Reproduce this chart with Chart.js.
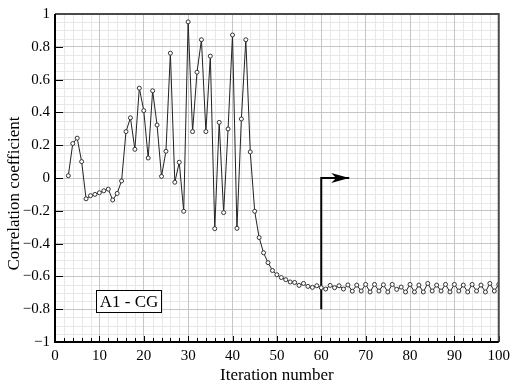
<!DOCTYPE html>
<html>
<head>
<meta charset="utf-8">
<script src="https://cdn.jsdelivr.net/npm/chart.js@4.4.1/dist/chart.umd.min.js"></script>
<style>
    html, body { margin: 0; padding: 0; background: #fff; }
</style>
</head>
<body>
<canvas id="corrChart" width="515" height="387"></canvas>
<script>
const ctx = document.getElementById("corrChart").getContext("2d");

/* Datos */
const iterations = [
    3, 4, 5, 6, 7, 8, 9, 10, 11, 12, 13, 14, 15, 16, 17, 18, 19, 20,
    21, 22, 23, 24, 25, 26, 27, 28, 29, 30, 31, 32, 33, 34, 35, 36, 37, 38, 39, 40,
    41, 42, 43, 44, 45, 46, 47, 48, 49, 50, 51, 52, 53, 54, 55, 56, 57, 58, 59, 60,
    61, 62, 63, 64, 65, 66, 67, 68, 69, 70, 71, 72, 73, 74, 75, 76, 77, 78, 79, 80,
    81, 82, 83, 84, 85, 86, 87, 88, 89, 90, 91, 92, 93, 94, 95, 96, 97, 98, 99, 100
];
const correlation = [
    0.014, 0.21, 0.243, 0.10, -0.127, -0.108, -0.10, -0.09, -0.078, -0.068, -0.134, -0.094, -0.018, 0.283, 0.367, 0.175, 0.548, 0.411,
    0.122, 0.532, 0.323, 0.01, 0.163, 0.761, -0.026, 0.096, -0.203, 0.952, 0.283, 0.645, 0.843, 0.283, 0.743, -0.309, 0.339, -0.211, 0.299, 0.872,
    -0.307, 0.36, 0.843, 0.159, -0.203, -0.363, -0.456, -0.516, -0.564, -0.59, -0.607, -0.62, -0.634, -0.637, -0.655, -0.643, -0.661, -0.667, -0.657, -0.669,
    -0.677, -0.655, -0.669, -0.657, -0.677, -0.652, -0.69, -0.653, -0.689, -0.649, -0.695, -0.649, -0.689, -0.651, -0.695, -0.649, -0.679, -0.665, -0.695, -0.649,
    -0.695, -0.653, -0.695, -0.643, -0.689, -0.653, -0.689, -0.649, -0.695, -0.649, -0.689, -0.653, -0.695, -0.649, -0.689, -0.653, -0.695, -0.643, -0.689, -0.649
];

/* Flecha: sube en la iteracion 60 y apunta a la derecha */
const arrowX = [60, 60, 66.3];
const arrowY = [-0.8, 0, 0];

const xTickLabels = [0, 10, 20, 30, 40, 50, 60, 70, 80, 90, 100];
const yTickLabels = [-1, -0.8, -0.6, -0.4, -0.2, 0, 0.2, 0.4, 0.6, 0.8, 1];
const caseLabel = "A1 - CG";

const SERIF = "'Liberation Serif', 'DejaVu Serif', serif";
Chart.defaults.font.family = SERIF;
Chart.defaults.color = "#000";

function fmtTick(v) {
    const r = Math.round(v * 10) / 10;
    if (r === 0) return "0";
    return r < 0 ? "\u2212" + String(-r) : String(r);
}

/* fondo blanco + rejilla menor */
const minorGrid = {
    id: "minorGrid",
    beforeDraw(chart) {
        const { ctx, chartArea: a, scales: { x, y } } = chart;
        ctx.save();
        ctx.fillStyle = "#fff";
        ctx.fillRect(0, 0, chart.width, chart.height);
        ctx.strokeStyle = "#e8e8e8";
        ctx.lineWidth = 1;
        ctx.beginPath();
        for (let v = 2; v < 100; v += 2) {
            if (v % 10 === 0) continue;
            const px = Math.round(x.getPixelForValue(v)) + 0.5;
            ctx.moveTo(px, a.top);
            ctx.lineTo(px, a.bottom);
        }
        for (let k = -19; k < 20; k++) {
            if (k % 4 === 0) continue;
            const py = Math.round(y.getPixelForValue(k * 0.05)) + 0.5;
            ctx.moveTo(a.left, py);
            ctx.lineTo(a.right, py);
        }
        ctx.stroke();
        ctx.restore();
    }
};

/* marco, ticks hacia adentro, caja de texto y punta de flecha */
const decorations = {
    id: "decorations",
    afterDatasetsDraw(chart) {
        const { ctx, chartArea: a, scales: { x, y } } = chart;
        ctx.save();

        // punta de flecha
        const pts = chart.getDatasetMeta(1).data;
        const tip = pts[pts.length - 1], prev = pts[pts.length - 2];
        const ang = Math.atan2(tip.y - prev.y, tip.x - prev.x);
        ctx.translate(tip.x, tip.y);
        ctx.rotate(ang);
        ctx.fillStyle = "#000";
        ctx.beginPath();
        ctx.moveTo(0, 0);
        ctx.lineTo(-18, -5);
        ctx.lineTo(-13, 0);
        ctx.lineTo(-18, 5);
        ctx.closePath();
        ctx.fill();
        ctx.setTransform(1, 0, 0, 1, 0, 0);

        // ticks
        ctx.strokeStyle = "#000";
        ctx.lineWidth = 1;
        ctx.beginPath();
        for (let v = 0; v <= 100; v += 2) {
            const px = Math.round(x.getPixelForValue(v)) + 0.5;
            const len = v % 10 === 0 ? 6 : 4;
            ctx.moveTo(px, a.bottom);
            ctx.lineTo(px, a.bottom - len);
        }
        for (let k = -5; k <= 5; k++) {
            const py = Math.round(y.getPixelForValue(k * 0.2)) + 0.5;
            ctx.moveTo(a.left, py);
            ctx.lineTo(a.left + 8, py);
        }
        ctx.stroke();

        // marco
        ctx.lineWidth = 2;
        ctx.strokeStyle = "#4a4a4a";
        ctx.beginPath();
        ctx.moveTo(a.left, a.top);
        ctx.lineTo(a.right, a.top);
        ctx.lineTo(a.right, a.bottom);
        ctx.stroke();
        ctx.strokeStyle = "#000";
        ctx.beginPath();
        ctx.moveTo(a.left, a.top);
        ctx.lineTo(a.left, a.bottom);
        ctx.lineTo(a.right, a.bottom);
        ctx.stroke();

        // caja "A1 - CG"
        const bx = Math.round(x.getPixelForValue(9.3)) + 0.5;
        const by = Math.round(y.getPixelForValue(-0.68)) + 0.5;
        const bw = 65, bh = 22;
        ctx.fillStyle = "#fff";
        ctx.fillRect(bx, by, bw, bh);
        ctx.lineWidth = 1;
        ctx.strokeRect(bx, by, bw, bh);
        ctx.fillStyle = "#000";
        ctx.font = "17px " + SERIF;
        ctx.textAlign = "center";
        ctx.textBaseline = "middle";
        ctx.fillText(caseLabel, bx + bw / 2, by + bh / 2 + 1);

        ctx.restore();
    },
    afterDraw(chart) {
        // titulo del eje y, centrado en la altura del lienzo
        const { ctx } = chart;
        ctx.save();
        ctx.translate(15, chart.height / 2);
        ctx.rotate(-Math.PI / 2);
        ctx.font = "17px " + SERIF;
        ctx.fillStyle = "#000";
        ctx.textAlign = "center";
        ctx.textBaseline = "middle";
        ctx.fillText("Correlation coefficient", 0, 0);
        ctx.restore();
    }
};

const chart = new Chart(ctx, {
    type: "line",
    data: {
        datasets: [
            {
                data: iterations.map((it, i) => ({ x: it, y: correlation[i] })),
                borderColor: "#222",
                borderWidth: 1,
                pointRadius: 2,
                pointBorderWidth: 1,
                pointBorderColor: "#333",
                pointBackgroundColor: "#fff",
                tension: 0
            },
            {
                data: arrowX.map((ax, i) => ({ x: ax, y: arrowY[i] })),
                borderColor: "#000",
                borderWidth: 2,
                pointRadius: 0,
                tension: 0
            }
        ]
    },
    options: {
        responsive: false,
        animation: false,
        layout: { padding: { top: 11, right: 15, left: 0, bottom: 0 } },
        plugins: {
            legend: { display: false },
            tooltip: { enabled: false }
        },
        scales: {
            x: {
                type: "linear",
                min: 0,
                max: 100,
                afterBuildTicks: s => { s.ticks = xTickLabels.map(v => ({ value: v })); },
                afterFit: s => { s.height = 45; },
                ticks: { color: "#000", font: { size: 15 }, padding: 5, maxRotation: 0 },
                grid: { color: "#c6c6c6", lineWidth: 1, drawTicks: false },
                border: { display: false },
                title: {
                    display: true,
                    text: "Iteration number",
                    color: "#000",
                    font: { size: 17 },
                    padding: { top: 0, bottom: 1 }
                }
            },
            y: {
                type: "linear",
                min: -1,
                max: 1,
                afterBuildTicks: s => { s.ticks = yTickLabels.map(v => ({ value: v })); },
                afterFit: s => { s.width = 55; },
                ticks: { color: "#000", font: { size: 15 }, padding: 5, callback: v => fmtTick(v) },
                grid: { color: "#c6c6c6", lineWidth: 1, drawTicks: false },
                border: { display: false }
            }
        }
    },
    plugins: [minorGrid, decorations]
});
</script>
</body>
</html>
